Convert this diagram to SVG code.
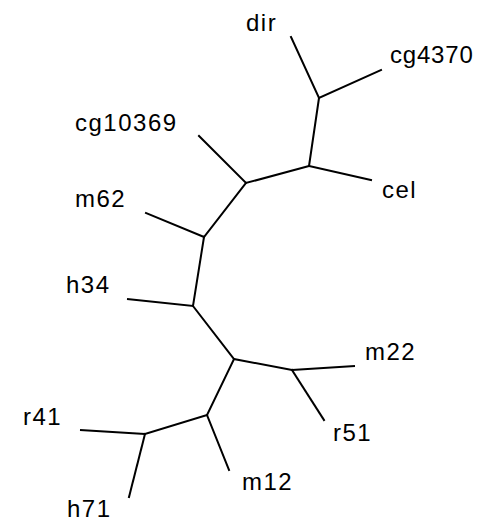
<svg xmlns="http://www.w3.org/2000/svg" width="477" height="530" viewBox="0 0 477 530">
<style>
.lbl{font-family:"Liberation Sans",Arial,sans-serif;font-size:24px;letter-spacing:1.5px;fill:#000}
.e{stroke:#000;stroke-width:2;fill:none;stroke-linecap:square}
</style>
<rect width="477" height="530" fill="#fff"/>
<g id="connectors">
<path class="e" d="M291,37 L319,98 L381,70"/>
<path class="e" d="M319,98 L309,166 L371,180"/>
<path class="e" d="M309,166 L246,183 L199,136"/>
<path class="e" d="M246,183 L204,237 L146,213"/>
<path class="e" d="M204,237 L193,306 L128,299"/>
<path class="e" d="M193,306 L234,359 L292,370 L354,366"/>
<path class="e" d="M292,370 L324,420"/>
<path class="e" d="M234,359 L207,415 L229,470"/>
<path class="e" d="M207,415 L145,434 L81,430"/>
<path class="e" d="M145,434 L129,497"/>
</g>
<g id="dir"><text class="lbl" x="246" y="31">dir</text></g>
<g id="cg4370"><text class="lbl" x="390" y="63" style="letter-spacing:0.8px">cg4370</text></g>
<g id="cel"><text class="lbl" x="382" y="198">cel</text></g>
<g id="cg10369"><text class="lbl" x="75" y="131">cg10369</text></g>
<g id="m62"><text class="lbl" x="75" y="207">m62</text></g>
<g id="h34"><text class="lbl" x="66" y="293">h34</text></g>
<g id="m22"><text class="lbl" x="365" y="360">m22</text></g>
<g id="r51"><text class="lbl" x="333" y="441">r51</text></g>
<g id="r41"><text class="lbl" x="23" y="425">r41</text></g>
<g id="m12"><text class="lbl" x="242" y="490">m12</text></g>
<g id="h71"><text class="lbl" x="67" y="517">h71</text></g>
</svg>
